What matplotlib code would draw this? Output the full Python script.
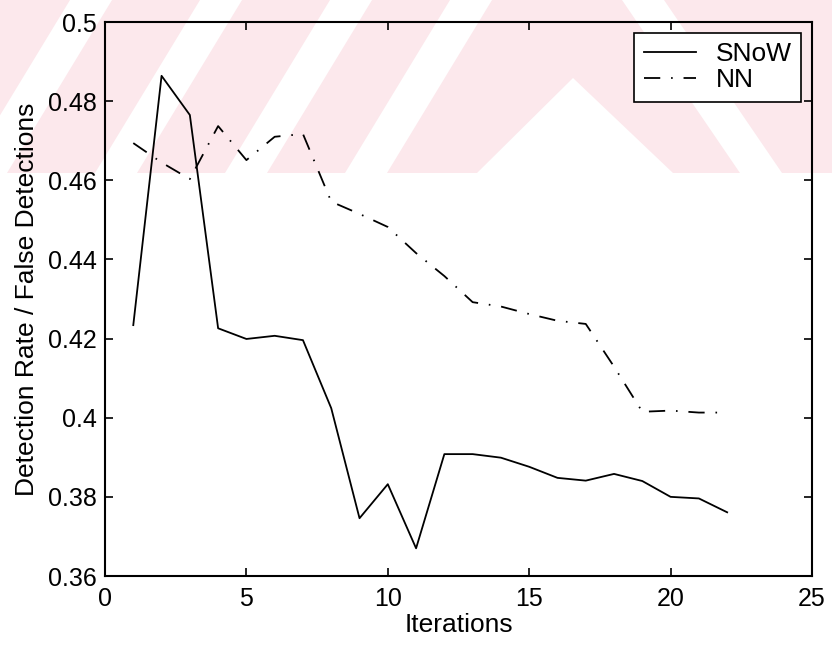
import matplotlib
matplotlib.use("Agg")
import matplotlib.pyplot as plt
from matplotlib.patches import Polygon, Rectangle

# values
iterations = list(range(1, 23))
snow = [0.4234, 0.4864, 0.4765, 0.4226, 0.4199, 0.4207, 0.4196, 0.4024,
        0.3746, 0.3832, 0.3670, 0.3908, 0.3908, 0.3899, 0.3876, 0.3848,
        0.3841, 0.3858, 0.3840, 0.3800, 0.3796, 0.3761]
nn = [0.4694, 0.4645, 0.4603, 0.4737, 0.4651, 0.4710, 0.4717, 0.4546,
      0.4515, 0.4482, 0.4416, 0.4358, 0.4292, 0.4281, 0.4262, 0.4245,
      0.4237, 0.4129, 0.4015, 0.4018, 0.4013, 0.4013]
y_ticks = [0.36, 0.38, 0.40, 0.42, 0.44, 0.46, 0.48, 0.50]
y_labels = ["0.36", "0.38", "0.4", "0.42", "0.44", "0.46", "0.48", "0.5"]
x_ticks = [0, 5, 10, 15, 20, 25]

plt.rcParams['font.family'] = ['Liberation Sans', 'DejaVu Sans']

W, H = 832, 647
fig = plt.figure(figsize=(W / 100, H / 100), dpi=100)


def px(points):
    # pixel coords (y down) -> figure fraction
    return [(x / W, 1 - y / H) for x, y in points]


# faint pink watermark band at the top of the scan
pink = '#fce8ec'
fig.patches.append(Rectangle((0, 1 - 173 / H), 1, 173 / H, transform=fig.transFigure,
                             facecolor=pink, edgecolor='none', zorder=-2))
for b in [-35, 95, 225, 345]:
    fig.patches.append(Polygon(px([(b, 173), (b + 42, 173), (b + 147, 0), (b + 105, 0)]),
                               closed=True, transform=fig.transFigure,
                               facecolor='white', edgecolor='none', zorder=-1))
fig.patches.append(Polygon(px([(477, 173), (573, 78), (673, 173)]), closed=True,
                           transform=fig.transFigure, facecolor='white',
                           edgecolor='none', zorder=-1))
fig.patches.append(Polygon(px([(622, 0), (664, 0), (782, 173), (740, 173)]), closed=True,
                           transform=fig.transFigure, facecolor='white',
                           edgecolor='none', zorder=-1))

ax = fig.add_axes([105 / W, 1 - 576 / H, (812 - 105) / W, (576 - 22) / H])
ax.patch.set_visible(False)

ax.plot(iterations, snow, color='black', linewidth=1.3, label='SNoW')
ax.plot(iterations, nn, color='black', linewidth=1.3,
        linestyle=(0, (9, 6, 0.9, 6)), label='NN')

ax.set_xlim(0, 25)
ax.set_ylim(0.36, 0.5)
ax.set_xticks(x_ticks)
ax.set_yticks(y_ticks)
ax.set_yticklabels(y_labels)
ax.tick_params(direction='in', top=True, right=True, length=6, width=1.2,
               labelsize=18)
ax.tick_params(axis='x', pad=8)
ax.tick_params(axis='y', pad=6)
for s in ax.spines.values():
    s.set_linewidth(1.5)

ax.set_xlabel('Iterations', fontsize=19, labelpad=1)
ax.set_ylabel('Detection Rate / False Detections', fontsize=19, labelpad=6)

leg = ax.legend(loc='upper right', fontsize=19, frameon=True, fancybox=False,
                edgecolor='black', framealpha=1, handlelength=2.0,
                borderaxespad=0.4, labelspacing=0.1, handletextpad=0.75,
                borderpad=0.35)
leg.get_frame().set_linewidth(1.2)

fig.savefig('out.png', dpi=100)
